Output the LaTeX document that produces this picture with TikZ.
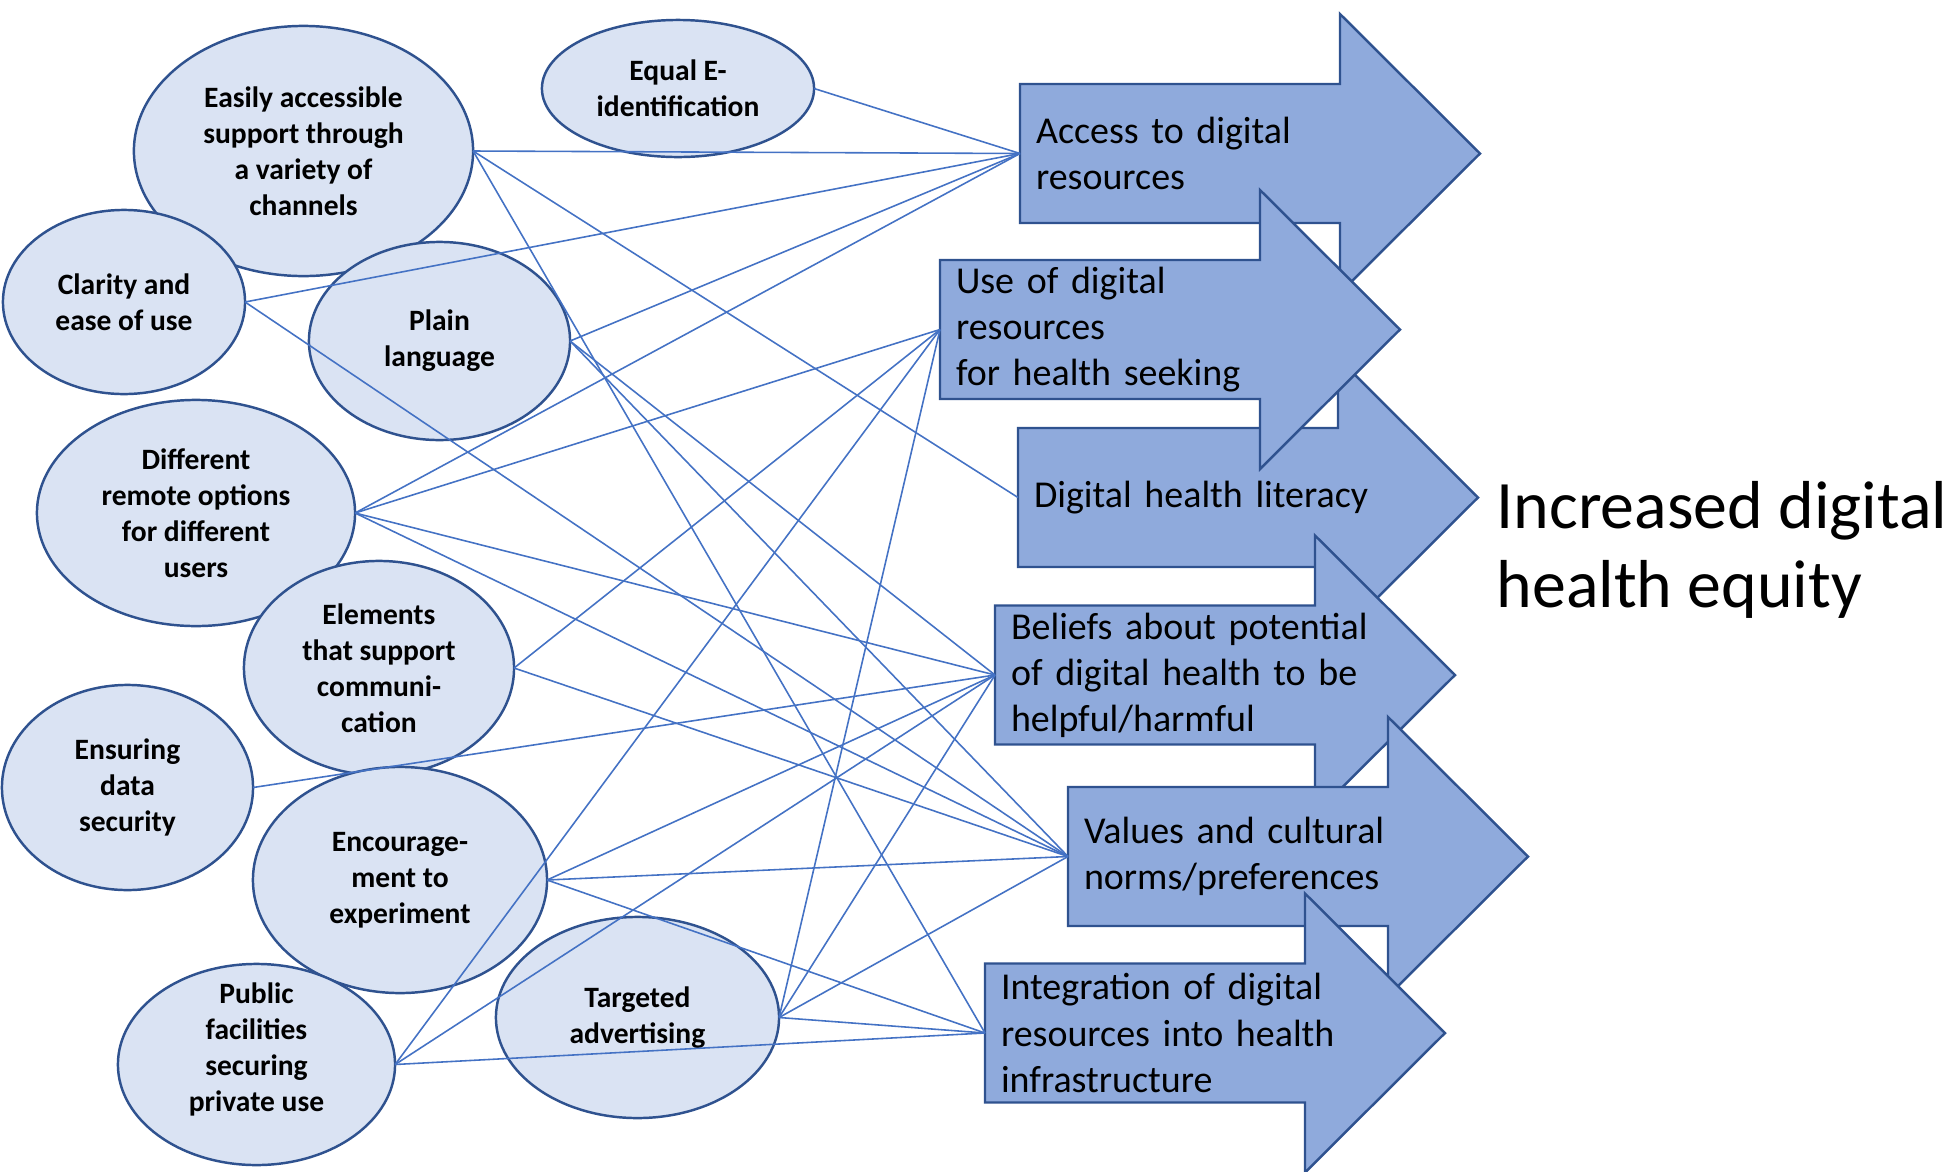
\documentclass[tikz,border=0pt]{standalone}
\usepackage{fontspec}
\setmainfont{Carlito}
\usepackage{tikz}
\usetikzlibrary{shapes.geometric}
\definecolor{factfill}{HTML}{DAE3F3}
\definecolor{darkedge}{HTML}{2F528F}
\definecolor{goalfill}{HTML}{8FAADC}
\definecolor{linkblue}{HTML}{4472C4}

\begin{document}
\begin{tikzpicture}[
    x=0.01cm, y=-0.01cm,
    facttext/.style={inner sep=0pt, align=center, font=\fontsize{8.4}{10.24}\selectfont\bfseries},
    factor/.style={facttext, ellipse, draw=darkedge, fill=factfill, line width=0.7pt, outer sep=0pt},
    goal/.style={anchor=west, inner xsep=0.16cm, inner ysep=0pt, outer sep=0pt, text width=3.8cm, align=left, font=\fontsize{10.8}{13.1}\selectfont},
    goalarrow/.style={draw=darkedge, fill=goalfill, line width=0.7pt},
    link/.style={draw=linkblue, line width=0.45pt}
]
    \useasboundingbox (0,0) rectangle (1950,1172);

    \node[factor, minimum width=3.39cm, minimum height=2.50cm] (easy) at (303.5,151) {Easily accessible\\support through\\a variety of\\channels};
    \node[factor, minimum width=2.72cm, minimum height=1.37cm] (equal) at (678,88.5) {Equal E-\\identification};
    \node[factor, minimum width=2.42cm, minimum height=1.84cm] (clarity) at (124,302) {Clarity and\\ease of use};
    \node[factor, minimum width=2.61cm, minimum height=1.98cm] (plain) at (439.5,341) {Plain\\language};
    \node[factor, minimum width=3.18cm, minimum height=2.26cm] (remote) at (196,513) {Different\\remote options\\for different\\users};
    \node[factor, minimum width=2.70cm, minimum height=2.14cm] (elements) at (379,668) {Elements\\that support\\communi-\\cation};
    \node[factor, minimum width=2.51cm, minimum height=2.05cm] (security) at (127.5,787.5) {Ensuring\\data\\security};
    \node[factor, minimum width=2.94cm, minimum height=2.26cm] (encourage) at (400,880) {Encourage-\\ment to\\experiment};
    \node[factor, minimum width=2.77cm, minimum height=2.01cm] (public) at (256.5,1064.5) {};
    \node[facttext] (publictext) at (256.5,1049) {Public\\facilities\\securing\\private use};
    \node[factor, minimum width=2.83cm, minimum height=2.01cm] (targeted) at (637.5,1017.5) {Targeted\\advertising};

    \filldraw[goalarrow] (1020,153.5) ++(0,-69.5) -- ++(320,0) -- ++(0,-70) -- ++(140,139.5) -- ++(-140,139.5) -- ++(0,-70) -- ++(-320,0) -- cycle;
    \node[goal] (access) at (1020,153.5) {Access to digital\\resources};
    \filldraw[goalarrow] (1018,497.5) ++(0,-69.5) -- ++(320,0) -- ++(0,-70) -- ++(140,139.5) -- ++(-140,139.5) -- ++(0,-70) -- ++(-320,0) -- cycle;
    \node[goal] (literacy) at (1018,497.5) {Digital health literacy};
    \filldraw[goalarrow] (940,329.5) ++(0,-69.5) -- ++(320,0) -- ++(0,-70) -- ++(140,139.5) -- ++(-140,139.5) -- ++(0,-70) -- ++(-320,0) -- cycle;
    \node[goal] (usage) at (940,329.5) {Use of digital\\resources\\for health seeking};
    \filldraw[goalarrow] (995,675) ++(0,-69.5) -- ++(320,0) -- ++(0,-70) -- ++(140,139.5) -- ++(-140,139.5) -- ++(0,-70) -- ++(-320,0) -- cycle;
    \node[goal] (beliefs) at (995,675) {Beliefs about potential\\of digital health to be\\helpful/harmful};
    \filldraw[goalarrow] (1068,856.5) ++(0,-69.5) -- ++(320,0) -- ++(0,-70) -- ++(140,139.5) -- ++(-140,139.5) -- ++(0,-70) -- ++(-320,0) -- cycle;
    \node[goal] (values) at (1068,856.5) {Values and cultural\\norms/preferences};
    \filldraw[goalarrow] (985,1033) ++(0,-69.5) -- ++(320,0) -- ++(0,-70) -- ++(140,139.5) -- ++(-140,139.5) -- ++(0,-70) -- ++(-320,0) -- cycle;
    \node[goal] (integration) at (985,1033) {Integration of digital\\resources into health\\infrastructure};

    \node[anchor=west, inner sep=0pt, align=left, font=\fontsize{19.3}{22.5}\selectfont] (equity) at (1496,550) {Increased digital\\health equity};

    \draw[link] (equal.east) -- (access.west);
    \draw[link] (easy.east) -- (access.west);
    \draw[link] (easy.east) -- (literacy.west);
    \draw[link] (easy.east) -- (integration.west);
    \draw[link] (clarity.east) -- (access.west);
    \draw[link] (clarity.east) -- (values.west);
    \draw[link] (plain.east) -- (access.west);
    \draw[link] (plain.east) -- (beliefs.west);
    \draw[link] (plain.east) -- (values.west);
    \draw[link] (remote.east) -- (access.west);
    \draw[link] (remote.east) -- (usage.west);
    \draw[link] (remote.east) -- (beliefs.west);
    \draw[link] (remote.east) -- (values.west);
    \draw[link] (elements.east) -- (usage.west);
    \draw[link] (elements.east) -- (values.west);
    \draw[link] (security.east) -- (beliefs.west);
    \draw[link] (encourage.east) -- (beliefs.west);
    \draw[link] (encourage.east) -- (values.west);
    \draw[link] (encourage.east) -- (integration.west);
    \draw[link] (public.east) -- (usage.west);
    \draw[link] (public.east) -- (beliefs.west);
    \draw[link] (public.east) -- (integration.west);
    \draw[link] (targeted.east) -- (usage.west);
    \draw[link] (targeted.east) -- (beliefs.west);
    \draw[link] (targeted.east) -- (values.west);
    \draw[link] (targeted.east) -- (integration.west);
\end{tikzpicture}
\end{document}
